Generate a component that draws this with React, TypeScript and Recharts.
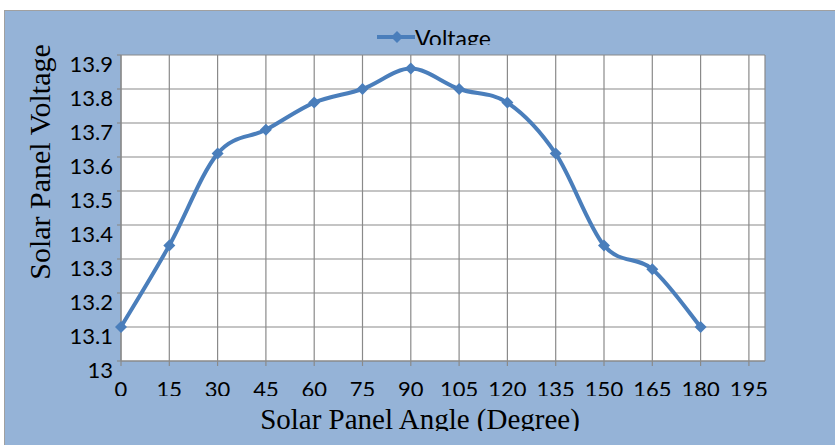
import { LineChart, Line, XAxis, YAxis, CartesianGrid, Legend } from 'recharts';

const angles = [0, 15, 30, 45, 60, 75, 90, 105, 120, 135, 150, 165, 180];
const voltages = [13.1, 13.34, 13.61, 13.68, 13.76, 13.8, 13.86, 13.8, 13.76, 13.61, 13.34, 13.27, 13.1];
const angleTicks = [0, 15, 30, 45, 60, 75, 90, 105, 120, 135, 150, 165, 180, 195];
const voltageTicks = [13, 13.1, 13.2, 13.3, 13.4, 13.5, 13.6, 13.7, 13.8, 13.9];
const seriesName = 'Voltage';
const xTitle = 'Solar Panel Angle (Degree)';
const yTitle = 'Solar Panel Voltage';

const BLUE = '#4a7ebb';
const GRID = '#8a8a8a';
const SANS = 'Lato, "Liberation Sans", sans-serif';
const SERIF = '"Liberation Serif", "DejaVu Serif", serif';

const data = angles.map((a, i) => ({ angle: a, voltage: voltages[i] }));

// Excel-like smoothing (Catmull-Rom through every point)
function excelCurve(context: any) {
  let pts: number[][] = [];
  return {
    areaStart() {},
    areaEnd() {},
    lineStart() {
      pts = [];
    },
    point(x: number, y: number) {
      pts.push([+x, +y]);
    },
    lineEnd() {
      if (!pts.length) return;
      context.moveTo(pts[0][0], pts[0][1]);
      for (let i = 0; i < pts.length - 1; i++) {
        const p0 = pts[i - 1] || pts[i];
        const p1 = pts[i];
        const p2 = pts[i + 1];
        const p3 = pts[i + 2] || pts[i + 1];
        context.bezierCurveTo(
          p1[0] + (p2[0] - p0[0]) / 6,
          p1[1] + (p2[1] - p0[1]) / 6,
          p2[0] - (p3[0] - p1[0]) / 6,
          p2[1] - (p3[1] - p1[1]) / 6,
          p2[0],
          p2[1]
        );
      }
    },
  };
}

function Diamond({ cx, cy, index }: any) {
  const s = 6;
  return (
    <path
      key={index}
      d={`M${cx},${cy - s}L${cx + s},${cy}L${cx},${cy + s}L${cx - s},${cy}Z`}
      fill={BLUE}
    />
  );
}

function XTick({ x, y, payload, index }: any) {
  const id = `xtick-clip-${index}`;
  return (
    <g>
      <defs>
        <clipPath id={id}>
          <rect x={x - 40} y={y} width={80} height={28} />
        </clipPath>
      </defs>
      <text x={x} y={y + 29} textAnchor="middle" fontSize={22} fontFamily={SANS} fill="#000" clipPath={`url(#${id})`}>
        {payload.value}
      </text>
    </g>
  );
}

function YTick({ x, y, payload }: any) {
  return (
    <text x={x} y={y + 17} textAnchor="end" fontSize={22} fontFamily={SANS} fill="#000">
      {payload.value}
    </text>
  );
}

function XTitle({ viewBox }: any) {
  const cx = viewBox.x + 299;
  const base = viewBox.y + 68;
  return (
    <g>
      <defs>
        <clipPath id="xtitle-clip">
          <rect x={viewBox.x - 100} y={base - 40} width={800} height={42} />
        </clipPath>
      </defs>
      <text x={cx} y={base} textAnchor="middle" fontSize={29} fontFamily={SERIF} fill="#000" clipPath="url(#xtitle-clip)">
        {xTitle}
      </text>
    </g>
  );
}

function YTitle({ viewBox }: any) {
  const cx = viewBox.x + 50;
  const cy = viewBox.y + 107;
  return (
    <text
      x={cx}
      y={cy}
      transform={`rotate(-90 ${cx} ${cy})`}
      textAnchor="middle"
      fontSize={30}
      fontFamily={SERIF}
      fill="#000"
    >
      {yTitle}
    </text>
  );
}

function LegendBox() {
  return (
    <div style={{ position: 'absolute', left: 377, top: 20, width: 140, height: 25, overflow: 'hidden' }}>
      <svg width={38} height={12} style={{ position: 'absolute', left: 0, top: 11 }}>
        <line x1={0} y1={6} x2={38} y2={6} stroke={BLUE} strokeWidth={4} />
        <path d="M20,0L26,6L20,12L14,6Z" fill={BLUE} />
      </svg>
      <span
        style={{
          position: 'absolute',
          left: 38,
          top: 4,
          fontFamily: SANS,
          fontSize: 23,
          lineHeight: '28px',
          color: '#000',
          whiteSpace: 'nowrap',
        }}
      >
        {seriesName}
      </span>
    </div>
  );
}

export default function App() {
  return (
    <div style={{ position: 'absolute', left: 0, top: 0, width: 835, height: 445, background: '#fff', overflow: 'hidden' }}>
      <div
        style={{
          position: 'absolute',
          left: 4,
          top: 10,
          width: 831,
          height: 435,
          background: '#95b3d7',
          borderTop: '1px solid #a0a0a0',
          borderLeft: '1px solid #a0a0a0',
          boxSizing: 'border-box',
        }}
      />
      <div style={{ position: 'absolute', left: 0, top: 0 }}>
        <LineChart width={835} height={445} data={data} margin={{ top: 55, right: 70, bottom: 0, left: 0 }}>
          <CartesianGrid stroke={GRID} strokeWidth={1.2} fill="#fff" fillOpacity={1} />
          <XAxis
            dataKey="angle"
            type="number"
            domain={[0, 200]}
            ticks={angleTicks}
            interval={0}
            height={84}
            tickSize={5}
            tickMargin={2}
            stroke={GRID}
            strokeWidth={1.2}
            tick={<XTick />}
            label={<XTitle />}
          />
          <YAxis
            type="number"
            domain={[13, 13.9]}
            ticks={voltageTicks}
            interval={0}
            width={121}
            tickSize={4}
            tickMargin={4}
            stroke={GRID}
            strokeWidth={1.2}
            tick={<YTick />}
            label={<YTitle />}
          />
          <Legend
            verticalAlign="middle"
            align="center"
            content={<LegendBox />}
            wrapperStyle={{ left: 0, top: 0, width: 835, height: 0 }}
          />
          <Line
            dataKey="voltage"
            name={seriesName}
            type={excelCurve as any}
            stroke={BLUE}
            strokeWidth={4}
            dot={<Diamond />}
            activeDot={false}
            isAnimationActive={false}
          />
        </LineChart>
      </div>
    </div>
  );
}
